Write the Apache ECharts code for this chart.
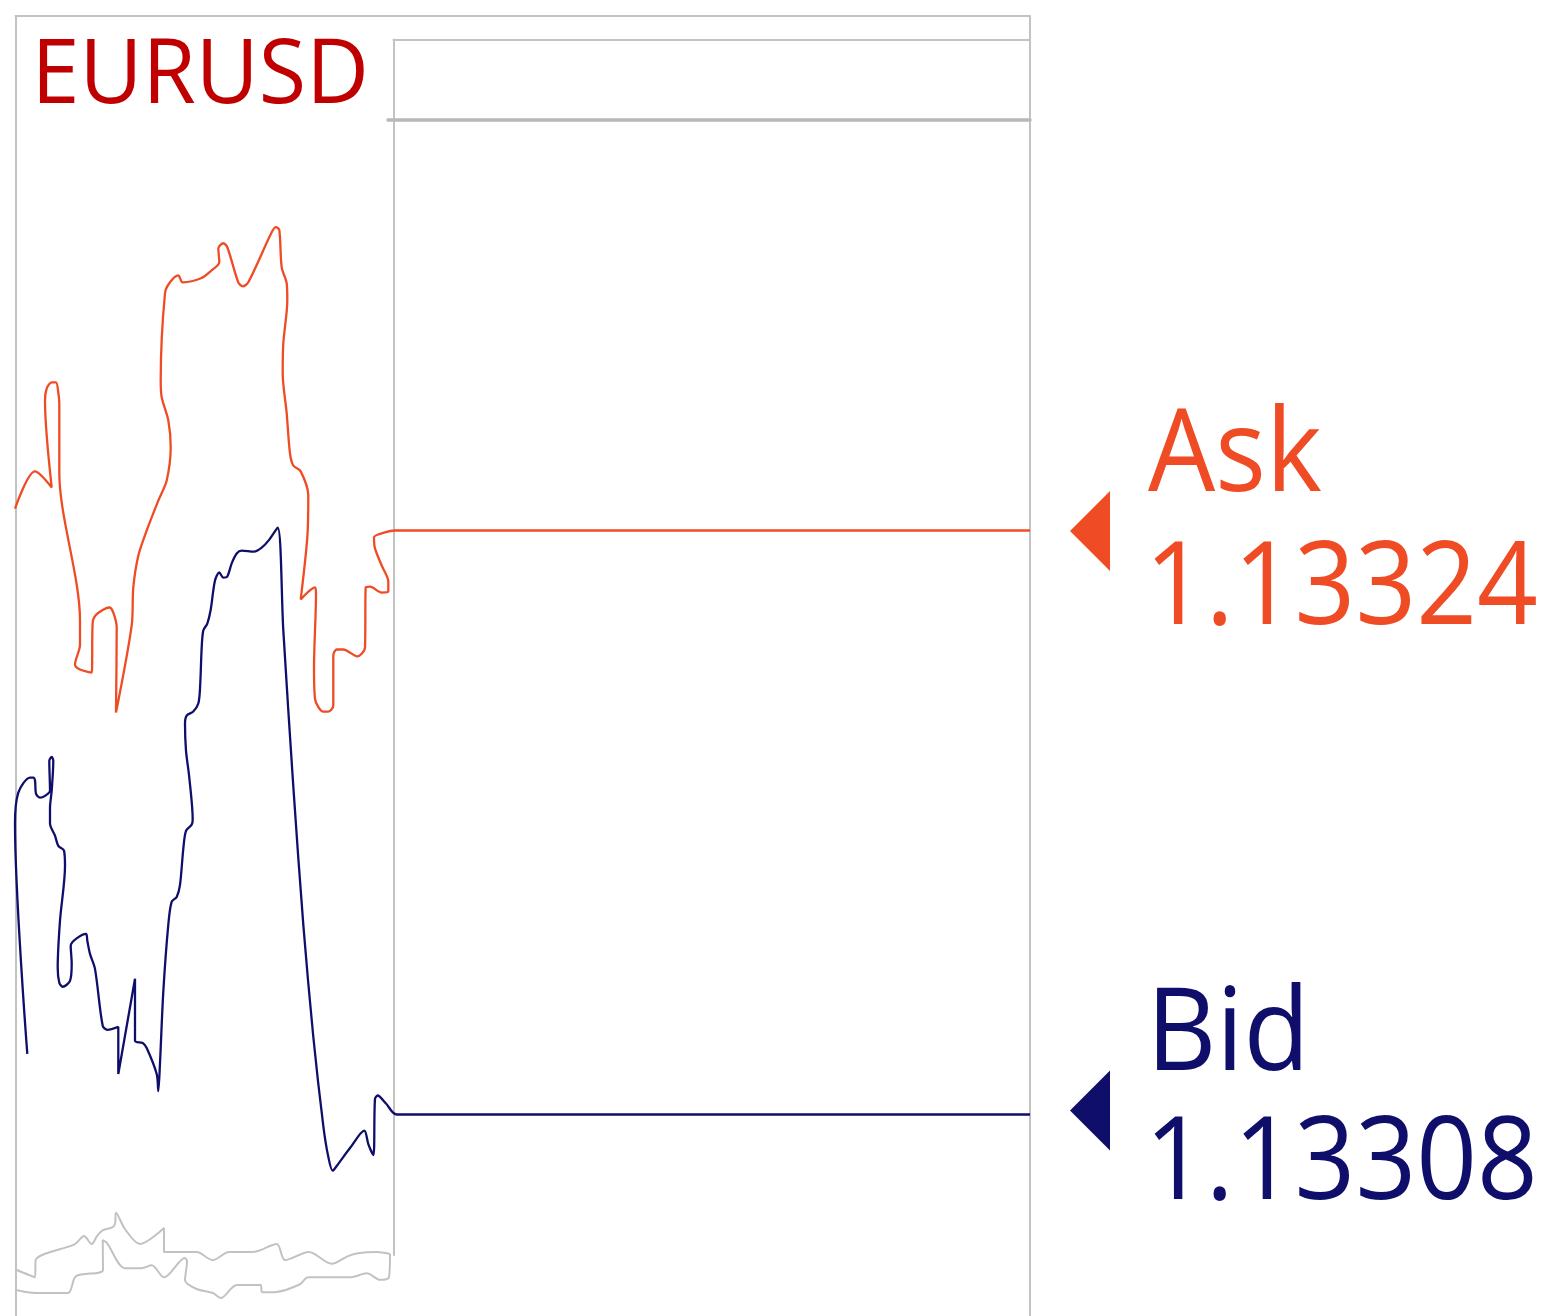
<!DOCTYPE html>
<html><head><meta charset="utf-8">
<script src="https://cdn.jsdelivr.net/npm/echarts@6/dist/echarts.min.js"></script>
<style>html,body{margin:0;padding:0;background:#fff}#c{width:1545px;height:1316px}</style>
</head><body><div id="c"></div>
<script>
// ---- data ----
const symbolName = 'EURUSD';
const seriesNames = ['Ask', 'Bid'];
const priceBase = 1.133;          // y values are points (0.00001) above this price
const pointSize = 0.00001;
// [tick, points above 1.13300]
const askData = [[0,24.60],[20,25.62],[36.7,25.18],[30,27.56],[31.7,27.89],[36.7,28.06],[41,28.06],[43.3,27.78],[44.3,27.48],[44.3,25.59],[65,21.53],[65,20.87],[60,20.33],[65,20.19],[76.7,20.11],[77.7,21.48],[82.3,21.72],[94.3,21.89],[98.3,21.75],[101.7,21.34],[101,19.01],[116.7,21.40],[118.3,22.44],[123.3,23.31],[131.7,24.00],[143.3,24.82],[151.7,25.37],[155.7,26.28],[153.3,27.02],[146.7,27.65],[145.7,28.11],[150,30.50],[155,30.80],[163.3,30.99],[167.7,30.80],[186,30.91],[196.7,31.13],[204.3,31.35],[203.3,31.73],[208.3,31.87],[212.3,31.76],[223.3,30.80],[227.7,30.69],[233.3,30.80],[256.7,32.17],[261,32.31],[264.3,32.23],[266.7,31.21],[271.7,30.77],[272.3,30.31],[268.3,29.13],[267.7,28.31],[271.7,27.21],[275,26.11],[278.3,25.78],[285.7,25.62],[293.3,24.96],[292.3,23.81],[285.7,22.11],[300,22.44],[301,22.27],[299,20.24],[300,19.39],[308.3,19.04],[313.3,19.04],[318.3,19.20],[318.3,20.57],[321.7,20.74],[328.3,20.74],[342.3,20.55],[350,20.79],[350.7,22.44],[355,22.46],[366.7,22.30],[373.3,22.33],[373.3,22.60],[366.7,23.04],[360,23.51],[359,23.81],[370,23.95],[380,24.00],[1015,24.00]];
const bidData = [[12.3,9.66],[0,15.97],[3.3,16.82],[15,17.23],[18.3,17.23],[20,17.15],[21,16.79],[25,16.68],[30,16.73],[35,16.87],[34.3,17.69],[36.7,17.80],[38.3,17.69],[36.7,16.87],[35,16.40],[35,15.97],[40,15.64],[43.3,15.36],[49,15.23],[50,14.81],[45,13.31],[42.7,12.02],[44.3,11.61],[47.7,11.50],[55,11.66],[56.7,12.13],[55.7,12.62],[71,12.95],[72.3,12.76],[75,12.40],[80,11.99],[87.7,10.43],[92.3,10.32],[103.3,10.40],[103.3,9.11],[120,11.72],[120,10.02],[127.7,9.96],[131.7,9.82],[141.7,9.11],[143.3,8.64],[145,9.41],[148.3,11.36],[153.3,13.20],[156.7,13.83],[161.7,13.96],[165,14.29],[168.3,15.28],[171,15.77],[176.7,15.94],[177.7,16.08],[174.3,17.23],[171,17.97],[170,18.71],[171.7,18.93],[178.3,19.04],[183.3,19.26],[185,19.67],[186.7,20.79],[188.3,21.26],[192.3,21.45],[195.7,21.83],[200,22.63],[204.3,22.85],[208.3,22.71],[212.3,22.74],[216.7,23.10],[221.7,23.37],[226.7,23.45],[239,23.42],[246.7,23.53],[254.3,23.75],[262.7,24.08],[268.3,21.27],[278.3,16.99],[288.3,13.20],[298.3,10.13],[308.3,7.69],[313.3,6.84],[317.7,6.46],[321.7,6.59],[335,7.08],[349.3,7.56],[353.3,7.19],[358.3,6.89],[360,8.43],[362.7,8.52],[371,8.30],[381.7,8.00],[1015,8.00]];
const greyUpper = [[0,3.76],[20,3.54],[20.7,4.01],[60,4.45],[69,4.67],[76.7,4.45],[82,4.67],[88,4.83],[96.7,4.90],[100,5.00],[101,5.31],[110,4.86],[125,4.45],[149,4.89],[149,4.23],[181.7,4.23],[197.7,4.01],[214,4.23],[237.7,4.23],[261.7,4.45],[270,4.01],[294,4.23],[316.7,3.91],[333,4.12],[343,4.20],[361.7,4.23],[375,4.18]];
const greyLower = [[0,3.20],[21,3.11],[53,3.11],[61,3.57],[88,3.74],[87.7,4.56],[91.7,4.49],[110,3.79],[126.7,3.79],[136.7,3.87],[149,3.54],[170,4.07],[172,3.98],[170,3.46],[181.7,3.22],[198,3.11],[205.7,2.97],[221.7,3.33],[245.7,3.33],[247,3.13],[261.7,3.14],[285,3.35],[293,3.54],[335,3.54],[352,3.65],[365,3.47],[374,3.54],[375,4.18]];
const yMin = 2.5, yMax = 36, xMin = 0, xMax = 1015;

// ---- style ----
const askColor = '#ef4b24';
const bidColor = '#0f0f6b';
const greyColor = '#c2c2c2';
const frameColor = '#c3c3c3';
const titleColor = '#c00000';
const FONT = '"Open Sans", "Noto Sans", sans-serif';
const MID = 0.30; // distance baseline -> canvas 'middle' as fraction of font size

const chart = echarts.init(document.getElementById('c'), null, {renderer: 'canvas'});

const hiddenAxis = (gi) => ({type: 'value', gridIndex: gi, min: 0, max: 1, show: false});
const lineAxis = (gi, pos, w, col) => ({
  type: 'value', gridIndex: gi, min: 0, max: 1, position: pos,
  axisLine: {show: true, onZero: false, lineStyle: {color: col, width: w}},
  axisTick: {show: false}, axisLabel: {show: false}, splitLine: {show: false}
});

const mkLine = (name, data, color, width, z) => ({
  type: 'line', name, data, xAxisIndex: 0, yAxisIndex: 0,
  smooth: 0.3, showSymbol: false, symbol: 'none', z,
  lineStyle: {color, width}, itemStyle: {color}, emphasis: {disabled: true}
});

const g = (o) => Object.assign({outerBoundsMode: 'none', containLabel: false}, o);

chart.setOption({
  animation: false,
  backgroundColor: '#ffffff',
  grid: [
    g({left: 15, width: 1015, top: 92.5, height: 1222.75}),          // data
    g({left: 15.5, width: 1014, top: 16, height: 1300}),             // outer frame
    g({left: 393.5, width: 636, top: 39.5, height: 1215.5}),         // inner box
    g({left: 388, width: 642, top: 119.5, height: 100})              // separator
  ],
  xAxis: [
    {type: 'value', gridIndex: 0, min: xMin, max: xMax, show: false},
    lineAxis(1, 'top', 2, frameColor),
    lineAxis(2, 'top', 2, frameColor),
    lineAxis(3, 'top', 3.5, '#b8b8b8')
  ],
  yAxis: [
    {type: 'value', gridIndex: 0, min: yMin, max: yMax, show: false},
    lineAxis(1, 'left', 2, frameColor),
    lineAxis(2, 'left', 2, frameColor),
    hiddenAxis(3),
    lineAxis(1, 'right', 2, frameColor)
  ],
  series: [
    mkLine('greyUpper', greyUpper, greyColor, 2, 2),
    mkLine('greyLower', greyLower, greyColor, 2, 2),
    mkLine(seriesNames[1], bidData, bidColor, 2.3, 4),
    mkLine(seriesNames[0], askData, askColor, 2.3, 5)
  ]
});

const lastAsk = askData[askData.length - 1];
const lastBid = bidData[bidData.length - 1];
const pa = chart.convertToPixel({gridIndex: 0}, lastAsk);
const pb = chart.convertToPixel({gridIndex: 0}, lastBid);
const fmt = v => (priceBase + v * pointSize).toFixed(5);

function txt(text, x, baseline, size, color, sx) {
  return {type: 'text', x: x, y: baseline - MID * size, scaleX: sx, z: 10,
    style: {text: text, fontSize: size, fontFamily: FONT, fill: color, align: 'left', verticalAlign: 'middle'}};
}
function tri(yc, color) {
  return {type: 'polygon', z: 10, shape: {points: [[1070, yc], [1110, yc - 40], [1110, yc + 40]]}, style: {fill: color}};
}

chart.setOption({
  graphic: [
    txt(symbolName, 31.5, 104, 90, titleColor, 0.96),
    tri(pa[1] + 0.5, askColor),
    txt(seriesNames[0], 1148, pa[1] - 37.5, 115, askColor, 0.925),
    txt(fmt(lastAsk[1]), 1145, pa[1] + 95, 115, askColor, 0.925),
    tri(pb[1] - 4, bidColor),
    txt(seriesNames[1], 1146.5, pb[1] - 43, 115, bidColor, 0.94),
    txt(fmt(lastBid[1]), 1145, pb[1] + 86.5, 115, bidColor, 0.925)
  ]
});
</script></body></html>
